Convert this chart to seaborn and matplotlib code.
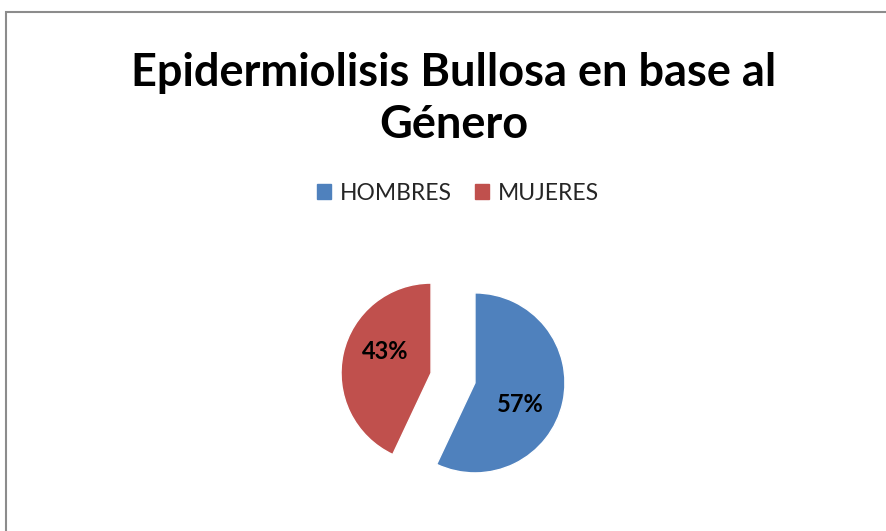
import matplotlib
matplotlib.use("Agg")
import numpy as np
import matplotlib.pyplot as plt
import matplotlib.patches as mpatches
import seaborn as sns

# datos del gráfico
generos = ["HOMBRES", "MUJERES"]
porcentajes = [57, 43]
colores = ["#4F81BD", "#C0504D"]
titulo = "Epidermiolisis Bullosa en base al\nGénero"

sns.set_theme(style="white")
plt.rcParams['font.family'] = ['Lato', 'DejaVu Sans']

W, H = 886, 531
fig = plt.figure(figsize=(W / 100, H / 100), dpi=100)

# borde gris del área del gráfico
fig.add_artist(mpatches.Rectangle((5.5 / W, -0.1), 1.2, 1 - 11.5 / H + 0.1,
                                  transform=fig.transFigure, fill=False,
                                  edgecolor="#8c8c8c", linewidth=1.5))

fig.text(454 / W, 1 - 99 / H, titulo, ha="center", va="center",
         fontsize=32.5, fontweight="bold", color="black", linespacing=1.32)

# pastel: radio ~90 px, centro en (453, 378)
cx, cy, r = 453, 378, 90
half = 160
ax = fig.add_axes([(cx - half) / W, (H - cy - half) / H, 2 * half / W, 2 * half / H])
wedges, texts, autotexts = ax.pie(
    porcentajes, colors=colores, startangle=90, counterclock=False,
    explode=[0.25, 0.25], autopct="%1.0f%%", pctdistance=0.56,
    textprops=dict(fontsize=17, fontweight="bold", color="black"))

# Excel coloca las etiquetas algo giradas respecto al centro de la porción
for w, t in zip(wedges, autotexts):
    ang = np.deg2rad((w.theta1 + w.theta2) / 2 - 13)
    x0, y0 = w.center
    t.set_position((x0 + 0.56 * np.cos(ang), y0 + 0.56 * np.sin(ang)))

lim = half / r
ax.set_xlim(-lim, lim)
ax.set_ylim(-lim, lim)
ax.set_aspect("equal")
ax.axis("off")

handles = [mpatches.Patch(color=c, label=g) for g, c in zip(generos, colores)]
fig.legend(handles=handles, loc="center", bbox_to_anchor=(458 / W, 1 - 193 / H),
           ncol=2, frameon=False, fontsize=16.5, handlelength=0.6, handleheight=0.6,
           handletextpad=0.4, columnspacing=1.0)

fig.savefig("out.png", dpi=100)
